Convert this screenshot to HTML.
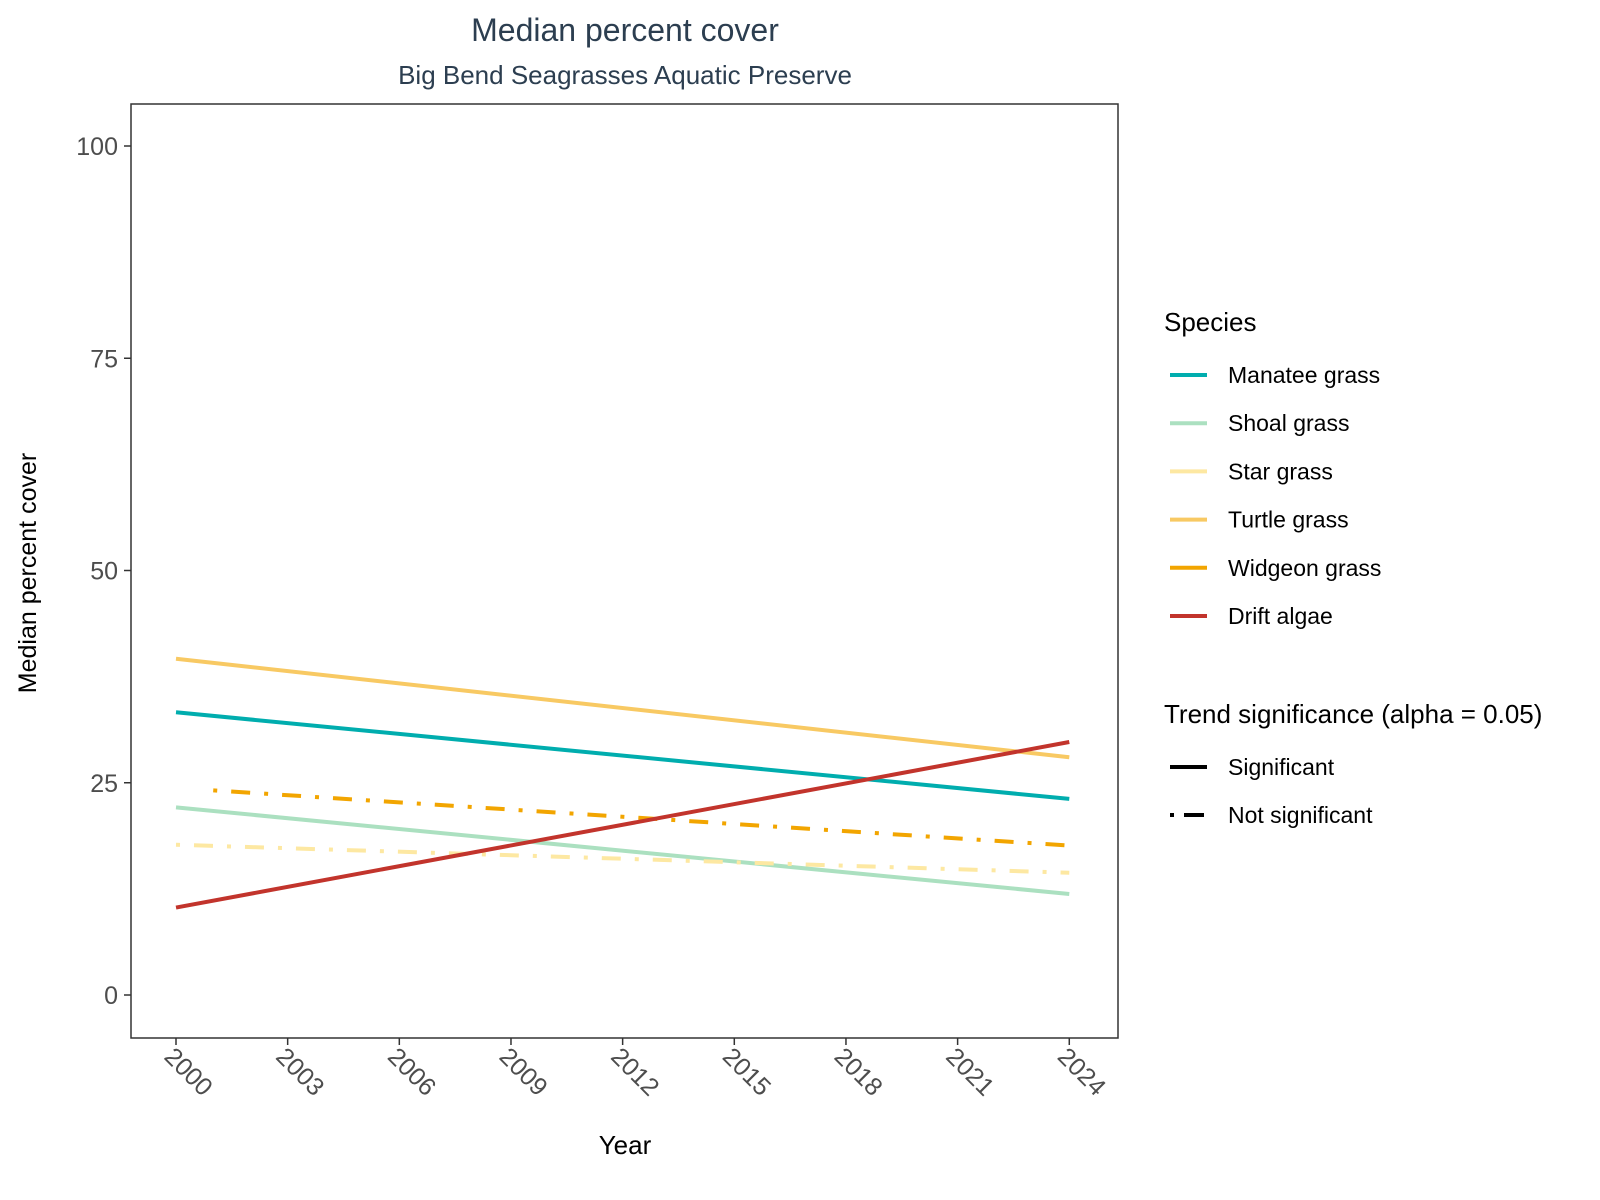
<!DOCTYPE html>
<html><head><meta charset="utf-8"><style>
body{margin:0;background:#fff;}
svg{display:block;font-family:"Liberation Sans",sans-serif;}
</style></head><body>
<svg id="chart" width="1600" height="1200" viewBox="0 0 1600 1200">
<text x="625" y="41" font-size="32" fill="#2c3e50" text-anchor="middle">Median percent cover</text>
<text x="625" y="84" font-size="26" fill="#2c3e50" text-anchor="middle">Big Bend Seagrasses Aquatic Preserve</text>
<rect x="131" y="104" width="987" height="934" fill="none" stroke="#333" stroke-width="1.5"/>
<g id="yaxis"></g>
<g id="xaxis"></g>
<g id="series"></g>
<text transform="translate(36,573) rotate(-90)" font-size="25" text-anchor="middle" fill="#000">Median percent cover</text>
<text x="625" y="1154" font-size="26" text-anchor="middle" fill="#000">Year</text>
<g id="legend">
<text x="1164" y="331" font-size="26" fill="#000">Species</text>
<text x="1164" y="723" font-size="26" fill="#000">Trend significance (alpha = 0.05)</text>
<g><line x1="1170" y1="767" x2="1207" y2="767" stroke="#000" stroke-width="4"/><text x="1228" y="775" font-size="23">Significant</text></g>
<g><line x1="1170" y1="815" x2="1207" y2="815" stroke="#000" stroke-width="4" stroke-dasharray="4 10 20 10"/><text x="1228" y="823" font-size="23">Not significant</text></g>
</g>
</svg>
<script>
const species = ["Manatee grass","Shoal grass","Star grass","Turtle grass","Widgeon grass","Drift algae"];
const colors = ["#00adae","#abe0c0","#fde8a2","#f8c963","#f2a500","#c2342c"];
const startYears = [2000,2000,2000,2000,2001,2000];
const endYears = [2024,2024,2024,2024,2024,2024];
const startValues = [33.3,22.1,17.7,39.6,24.1,10.3];
const endValues = [23.1,11.9,14.4,28.0,17.6,29.8];
const significant = [true,true,false,true,false,true];
const yTicks = [0,25,50,75,100];
const xTicks = [2000,2003,2006,2009,2012,2015,2018,2021,2024];

const NS="http://www.w3.org/2000/svg";
function xs(v){return 176+(v-2000)*37.22;}
function ys(v){return 995-v*8.49;}
function mk(tag,attrs,parent){const e=document.createElementNS(NS,tag);for(const k in attrs)e.setAttribute(k,attrs[k]);parent.appendChild(e);return e;}
const ya=document.getElementById('yaxis'),xa=document.getElementById('xaxis'),sg=document.getElementById('series'),lg=document.getElementById('legend');
yTicks.forEach(t=>{
  const l=mk('line',{x1:124,x2:131,y1:ys(t),y2:ys(t),stroke:'#333','stroke-width':1.5},ya);
  
  
  const tx=mk('text',{x:118,y:ys(t)+9,'font-size':25,fill:'#4d4d4d','text-anchor':'end'},ya);
  tx.textContent=t;
  
  
});
xTicks.forEach(t=>{
  const l=mk('line',{x1:xs(t),x2:xs(t),y1:1038,y2:1045,stroke:'#333','stroke-width':1.5},xa);
  
  
  const tx=mk('text',{transform:`translate(${xs(t)-13},${1058}) rotate(45)`,'font-size':25,fill:'#4d4d4d'},xa);
  tx.textContent=t;
  
  
});
species.forEach((s,i)=>{
  const a={x1:xs(startYears[i]),y1:ys(startValues[i]),x2:xs(endYears[i]),y2:ys(endValues[i]),stroke:colors[i],'stroke-width':4};
  if(!significant[i])a['stroke-dasharray']='4 14 19 14';
  const l=mk('line',a,sg);
  
  
  const y=375+i*48.2;
  const g=mk('g',{},lg);
  
  
  mk('line',{x1:1170,x2:1207,y1:y,y2:y,stroke:colors[i],'stroke-width':4},g);
  const tx=mk('text',{x:1228,y:y+8,'font-size':23,fill:'#000'},g);
  tx.textContent=s;
});
</script>
</body></html>
